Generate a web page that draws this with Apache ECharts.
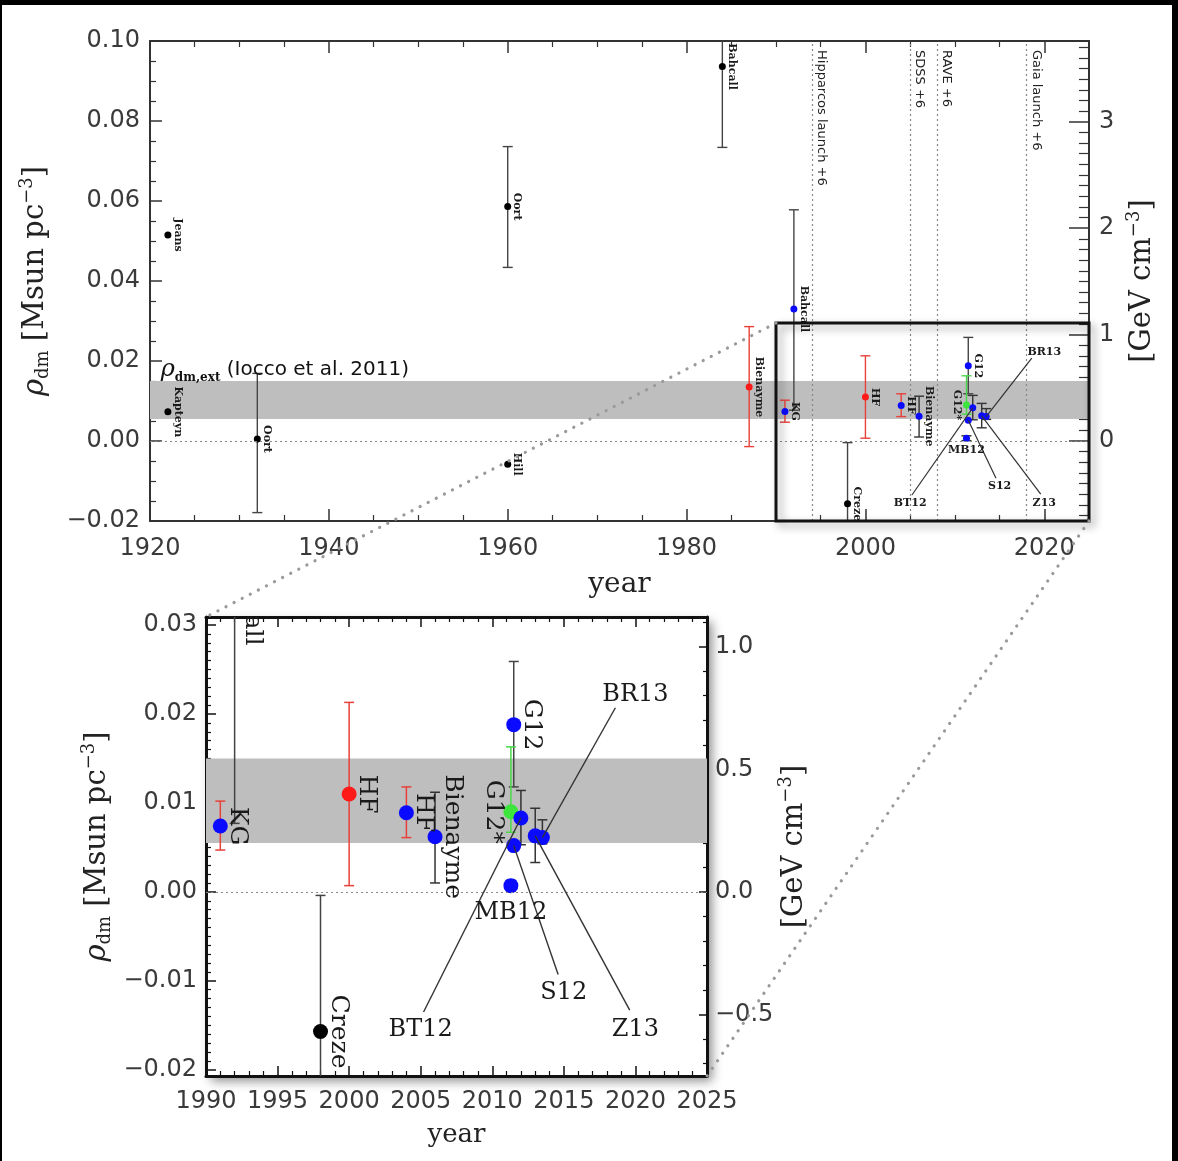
<!DOCTYPE html>
<html>
<head>
<meta charset="utf-8">
<title>Local dark matter density</title>
<script src="https://cdn.jsdelivr.net/npm/echarts@6/dist/echarts.min.js"></script>
<style>
html, body { margin: 0; padding: 0; background: #fff; }
#chart { width: 1178px; height: 1161px; }
.edge { position: fixed; left: 0; top: 0; right: 0; bottom: 0; pointer-events: none;
        border-top: 5px solid #000; border-right: 6px solid #000; border-left: 2px solid #000; }
</style>
</head>
<body>
<div id="chart"></div>
<div class="edge"></div>
<script>
const names   = ['Kapteyn', 'Jeans', 'Oort', 'Oort', 'Hill', 'Bahcall', 'Bienayme', 'Bahcall', 'KG', 'Creze',
                 'HF', 'HF', 'Bienayme', 'G12', 'G12*', 'BT12', 'S12', 'MB12', 'Z13', 'BR13'];
const years   = [1922, 1922, 1932, 1960, 1960, 1984, 1987, 1992, 1991, 1998,
                 2000, 2004, 2006, 2011.5, 2011.3, 2012, 2011.5, 2011.3, 2013, 2013.5];
const rho     = [0.0073, 0.0515, 0.0005, 0.0586, -0.0058, 0.0936, 0.0135, 0.0330, 0.0074, -0.0157,
                 0.0110, 0.0089, 0.0062, 0.0188, 0.0090, 0.0083, 0.0052, 0.0007, 0.0063, 0.0061];
const rhoLow  = [null, null, -0.0179, 0.0434, null, 0.0734, -0.0014, 0.0077, 0.0047, -0.0310,
                 0.0007, 0.0061, 0.0010, 0.0118, 0.0067, 0.0053, null, 0.0001, 0.0033, 0.0054];
const rhoHigh = [null, null, 0.0169, 0.0736, null, 0.1138, 0.0286, 0.0578, 0.0102, -0.0004,
                 0.0213, 0.0118, 0.0112, 0.0259, 0.0163, 0.0114, null, 0.0013, 0.0094, 0.0081];

// labels placed away from the points, with leader lines
const annoNames  = ['BT12', 'S12', 'Z13', 'BR13', 'MB12'];
const annoYear   = [2005.0, 2015.0, 2020.0, 2020.0, 2011.3];
const annoRho    = [-0.0155, -0.0113, -0.0155, 0.0222, -0.0024];
const leaderYear = [2005.2, 2014.6, 2019.6, 2018.6, null];
const leaderRho  = [-0.0135, -0.0093, -0.0133, 0.0207, null];

// survey lines
const eventYears  = [1994, 2005, 2008, 2018];
const eventLabels = ['Hipparcos launch +6', 'SDSS +6', 'RAVE +6', 'Gaia launch +6'];

const bandRho   = [0.0055, 0.0150];   // rho_dm,ext (Iocco et al. 2011)
const bandLabelAt = [1921.2, 0.0177];
const zoomYears = [1990, 2025];
const zoomRho   = [-0.02, 0.0295];

// axis ranges; right axes in GeV cm^-3
const TOP_X = [1920, 2025], TOP_Y = [-0.02, 0.10];
const INSET_X = [1990, 2025], INSET_Y = [-0.0207, 0.0309];
const GEV_TOP = 0.0266, GEV_INSET = 0.02756;

// styles
const BLUE = '#0a0aff', RED = '#ff1a1a', GREEN = '#3ce43c', BLACK = '#000';
const markColors = [BLACK, BLACK, BLACK, BLACK, BLACK, BLACK, RED, BLUE, BLUE, BLACK,
                    RED, BLUE, BLUE, BLUE, GREEN, BLUE, BLUE, BLUE, BLUE, BLUE];
const barColors  = ['#333', '#333', '#444', '#444', '#444', '#444', '#e8403a', '#444', '#e8403a', '#444',
                    '#e8403a', '#e8403a', '#333', '#444', '#4ad84a', '#333', '#333', '#333', '#333', '#333'];
const labelSide  = ['r', 'r', 'r', 'r', 'r', 'r', 'r', 'r', 'r', 'r',
                    'r', 'r', 'r', 'r', 'l', '', '', '', '', ''];

const onStep = (v, s) => Math.abs(v / s - Math.round(v / s)) < 1e-6;
const num = (v, d) => (v < -1e-12 ? '\u2212' : '') + Math.abs(v).toFixed(d);

const tickFont = { fontFamily: 'DejaVu Sans', fontSize: 24, color: '#3a3a3a' };
const subRich = {
  r: { fontFamily: 'DejaVu Serif', fontSize: 29, fontStyle: 'italic', color: '#222', lineHeight: 34 },
  t: { fontFamily: 'DejaVu Serif', fontSize: 29, color: '#222', lineHeight: 34 },
  s: { fontFamily: 'DejaVu Serif', fontSize: 18, color: '#222', verticalAlign: 'bottom', lineHeight: 20 },
  p: { fontFamily: 'DejaVu Serif', fontSize: 18, color: '#222', verticalAlign: 'top', lineHeight: 20 }
};
const RHO_NAME = '{r|ρ}{s|dm}{t| [Msun pc}{p|\u22123}{t|]}';
const GEV_NAME = '{t|[GeV cm}{p|\u22123}{t|]}';

function frame(color, width, major, minor, split) {
  return {
    axisLine: { show: true, onZero: false, lineStyle: { color, width } },
    axisTick: { show: true, inside: true, length: major, lineStyle: { color, width: 1.5 } },
    minorTick: { show: true, splitNumber: split, length: minor, lineStyle: { color, width: 1.2 } },
    splitLine: { show: false }
  };
}

function errorBars(cap, width) {
  return function (params, api) {
    const x = api.value(0);
    const lo = api.coord([x, api.value(1)]);
    const hi = api.coord([x, api.value(2)]);
    const style = { stroke: barColors[api.value(3)], lineWidth: width };
    return {
      type: 'group',
      children: [
        { type: 'line', shape: { x1: lo[0], y1: lo[1], x2: hi[0], y2: hi[1] }, style },
        { type: 'line', shape: { x1: lo[0] - cap, y1: lo[1], x2: lo[0] + cap, y2: lo[1] }, style },
        { type: 'line', shape: { x1: hi[0] - cap, y1: hi[1], x2: hi[0] + cap, y2: hi[1] }, style }
      ]
    };
  };
}

function pointLabels(font, gap) {
  return function (params, api) {
    const i = api.value(2);
    const p = api.coord([api.value(0), api.value(1)]);
    const left = labelSide[i] === 'l';
    return {
      type: 'text', x: p[0] + (left ? -gap : gap), y: p[1], rotation: -Math.PI / 2,
      style: { text: names[i], font, fill: '#1a1a1a', align: 'center', verticalAlign: left ? 'top' : 'bottom' }
    };
  };
}

function annotations(font, lineWidth) {
  return function (params, api) {
    const a = api.value(2);
    const p = api.coord([api.value(0), api.value(1)]);
    const children = [{
      type: 'text', x: p[0], y: p[1],
      style: { text: annoNames[a], font, fill: '#1a1a1a', align: 'center', verticalAlign: 'middle' }
    }];
    if (leaderYear[a] != null) {
      const i = names.indexOf(annoNames[a]);
      const s = api.coord([leaderYear[a], leaderRho[a]]);
      const e = api.coord([years[i], rho[i]]);
      children.push({ type: 'line', shape: { x1: s[0], y1: s[1], x2: e[0], y2: e[1] },
                      style: { stroke: '#333', lineWidth } });
    }
    return { type: 'group', children };
  };
}

const pointData = names.map((n, i) => [years[i], rho[i]]);
const errData = names.map((n, i) => [years[i], rhoLow[i], rhoHigh[i], i]).filter(d => d[1] != null);
const labelData = names.map((n, i) => [years[i], rho[i], i]).filter(d => labelSide[d[2]] !== '');
const annoData = annoNames.map((n, a) => [annoYear[a], annoRho[a], a]);

function seriesFor(g, big) {
  const list = [
    {
      type: 'line', xAxisIndex: g * 2, yAxisIndex: g * 2, data: [], z: 1, silent: true,
      markArea: { silent: true, itemStyle: { color: '#bebebe' }, data: [[{ yAxis: bandRho[0] }, { yAxis: bandRho[1] }]] },
      markLine: {
        silent: true, symbol: 'none', label: { show: false },
        lineStyle: { color: '#888', type: [2, 3], width: 1.2 },
        data: [{ yAxis: 0 }].concat(g === 0 ? eventYears.map(y => ({ xAxis: y })) : [])
      }
    },
    {
      type: 'custom', xAxisIndex: g * 2, yAxisIndex: g * 2, clip: true, z: 3,
      encode: { x: 0, y: [1, 2] }, data: errData, renderItem: errorBars(5, big ? 1.5 : 1.4)
    },
    {
      type: 'scatter', xAxisIndex: g * 2, yAxisIndex: g * 2, clip: true, z: 4,
      symbol: 'circle', symbolSize: big ? 15 : 7, data: pointData,
      itemStyle: { color: p => markColors[p.dataIndex], opacity: 1 }
    },
    {
      type: 'custom', xAxisIndex: g * 2, yAxisIndex: g * 2, clip: true, z: 5,
      encode: { x: 0, y: 1 }, data: labelData,
      renderItem: big ? pointLabels('25px "DejaVu Serif"', 5) : pointLabels('bold 11px "DejaVu Serif"', 4)
    },
    {
      type: 'custom', xAxisIndex: g * 2, yAxisIndex: g * 2, clip: true, z: 5,
      encode: { x: 0, y: 1 }, data: annoData,
      renderItem: big ? annotations('24px "DejaVu Serif"', 1.4) : annotations('bold 11px "DejaVu Serif"', 1.2)
    }
  ];
  if (g === 0) {
    list.push({
      type: 'custom', xAxisIndex: 0, yAxisIndex: 0, clip: true, z: 5,
      encode: { x: 0, y: 1 }, data: eventYears.map((y, k) => [y, TOP_Y[1], k]),
      renderItem: function (params, api) {
        const p = api.coord([api.value(0), api.value(1)]);
        return {
          type: 'text', x: p[0] + 3, y: p[1] + 9, rotation: -Math.PI / 2,
          style: { text: eventLabels[api.value(2)], font: '13px "DejaVu Sans"', fill: '#222',
                   align: 'left', verticalAlign: 'bottom' }
        };
      }
    });
  }
  return list;
}

const chart = echarts.init(document.getElementById('chart'));

const option = {
  animation: false,
  backgroundColor: '#fff',
  grid: [
    { left: 150, top: 41, width: 939, height: 480 },
    { left: 206, top: 617, width: 501, height: 459, show: true, backgroundColor: '#fff', borderWidth: 0,
      shadowColor: 'rgba(0,0,0,0.45)', shadowBlur: 10, shadowOffsetX: 5, shadowOffsetY: 5 }
  ],
  xAxis: [
    Object.assign({
      gridIndex: 0, type: 'value', position: 'bottom', min: TOP_X[0], max: TOP_X[1], interval: 20,
      axisLabel: Object.assign({ margin: 16, formatter: v => onStep(v, 20) ? String(v) : '' }, tickFont),
      name: 'year', nameLocation: 'middle', nameGap: 50,
      nameTextStyle: { fontFamily: 'DejaVu Serif', fontSize: 28, color: '#222' }
    }, frame('#333', 2, 12, 6, 4)),
    Object.assign({
      gridIndex: 0, type: 'value', position: 'top', min: TOP_X[0], max: TOP_X[1], interval: 20,
      axisLabel: { show: false }
    }, frame('#333', 2, 12, 6, 4)),
    Object.assign({
      gridIndex: 1, type: 'value', position: 'bottom', min: INSET_X[0], max: INSET_X[1], interval: 5,
      axisLabel: Object.assign({ margin: 14, formatter: v => onStep(v, 5) ? String(v) : '' }, tickFont),
      name: 'year', nameLocation: 'middle', nameGap: 46,
      nameTextStyle: { fontFamily: 'DejaVu Serif', fontSize: 26, color: '#222' }
    }, frame('#111', 3, 10, 5, 5)),
    Object.assign({
      gridIndex: 1, type: 'value', position: 'top', min: INSET_X[0], max: INSET_X[1], interval: 5,
      axisLabel: { show: false }
    }, frame('#111', 3, 10, 5, 5))
  ],
  yAxis: [
    Object.assign({
      gridIndex: 0, type: 'value', position: 'left', min: TOP_Y[0], max: TOP_Y[1], interval: 0.02,
      axisLabel: Object.assign({ margin: 10, formatter: v => onStep(v, 0.02) ? num(v, 2) : '' }, tickFont),
      name: RHO_NAME, nameLocation: 'middle', nameRotate: 90, nameGap: 98,
      nameTextStyle: { rich: subRich }
    }, frame('#333', 2, 12, 6, 4)),
    Object.assign({
      gridIndex: 0, type: 'value', position: 'right', min: TOP_Y[0] / GEV_TOP, max: TOP_Y[1] / GEV_TOP,
      splitNumber: 4,
      axisLabel: Object.assign({ margin: 10, formatter: v => onStep(v, 1) ? num(v, 0) : '' }, tickFont),
      name: GEV_NAME, nameLocation: 'middle', nameRotate: 90, nameGap: 32,
      nameTextStyle: { rich: subRich }
    }, frame('#333', 2, 20, 10, 10)),
    Object.assign({
      gridIndex: 1, type: 'value', position: 'left', min: INSET_Y[0], max: INSET_Y[1], splitNumber: 5,
      axisLabel: Object.assign({ margin: 9, formatter: v => onStep(v, 0.01) ? num(v, 2) : '' }, tickFont),
      name: RHO_NAME, nameLocation: 'middle', nameRotate: 90, nameGap: 92,
      nameTextStyle: { rich: subRich }
    }, frame('#111', 3, 10, 5, 10)),
    Object.assign({
      gridIndex: 1, type: 'value', position: 'right', min: INSET_Y[0] / GEV_INSET, max: INSET_Y[1] / GEV_INSET,
      splitNumber: 4,
      axisLabel: Object.assign({ margin: 8, formatter: v => onStep(v, 0.5) ? num(v, 1) : '' }, tickFont),
      name: GEV_NAME, nameLocation: 'middle', nameRotate: 90, nameGap: 66,
      nameTextStyle: { rich: subRich }
    }, frame('#111', 3, 8, 4, 5))
  ],
  series: seriesFor(0, false).concat(seriesFor(1, true))
};

chart.setOption(option);

// zoom box on the main panel, and the dotted connectors to the inset
const boxA = chart.convertToPixel({ gridIndex: 0 }, [zoomYears[0], zoomRho[1]]);
const boxB = chart.convertToPixel({ gridIndex: 0 }, [zoomYears[1], zoomRho[0]]);
const insA = chart.convertToPixel({ gridIndex: 1 }, [INSET_X[0], INSET_Y[1]]);
const insB = chart.convertToPixel({ gridIndex: 1 }, [INSET_X[1], INSET_Y[0]]);
const bandAt = chart.convertToPixel({ gridIndex: 0 }, bandLabelAt);
const dots = { stroke: '#9a9a9a', lineWidth: 3.2, lineDash: [0.1, 9], lineCap: 'round' };

chart.setOption({
  graphic: [
    {
      type: 'rect', z: 20, silent: true,
      shape: { x: boxA[0], y: boxA[1], width: boxB[0] - boxA[0], height: boxB[1] - boxA[1] },
      style: { fill: 'none', stroke: '#111', lineWidth: 3,
               shadowColor: 'rgba(0,0,0,0.4)', shadowBlur: 8, shadowOffsetX: 4, shadowOffsetY: 4 }
    },
    { type: 'line', z: 20, silent: true, shape: { x1: boxA[0], y1: boxA[1], x2: insA[0], y2: insA[1] }, style: dots },
    { type: 'line', z: 20, silent: true, shape: { x1: boxB[0], y1: boxB[1], x2: insB[0], y2: insB[1] }, style: dots },
    {
      type: 'text', z: 20, silent: true, x: bandAt[0], y: bandAt[1],
      style: {
        text: '{r|ρ}{s|dm,ext}{t| (Iocco et al. 2011)}',
        align: 'left', verticalAlign: 'middle', textAlign: 'left', textVerticalAlign: 'middle',
        rich: {
          r: { fontFamily: 'DejaVu Serif', fontSize: 24, fontStyle: 'italic', fill: '#111', lineHeight: 28 },
          s: { fontFamily: 'DejaVu Serif', fontSize: 12, fontWeight: 'bold', fill: '#111', verticalAlign: 'bottom', lineHeight: 14 },
          t: { fontFamily: 'DejaVu Sans', fontSize: 20, fill: '#111', lineHeight: 28 }
        }
      }
    }
  ]
});
</script>
</body>
</html>
